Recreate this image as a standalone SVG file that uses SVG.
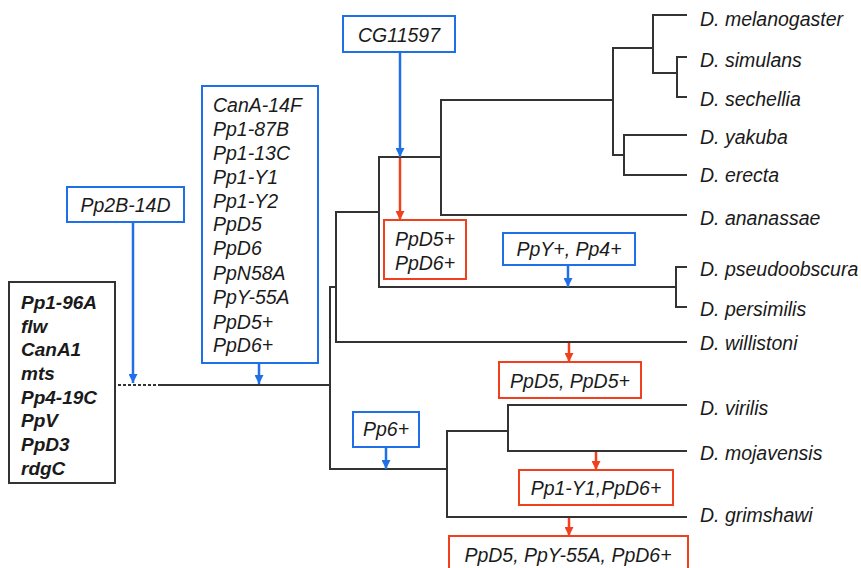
<svg xmlns="http://www.w3.org/2000/svg" width="861" height="568" viewBox="0 0 861 568">
<style>
text{font-family:"Liberation Sans",Arial,sans-serif;font-style:italic;font-size:19.5px;fill:#1a1a1a}
.b{font-weight:bold;font-size:19px}
.m{text-anchor:middle}
.tree path{fill:none;stroke:#333;stroke-width:2}
.bx{fill:#fff;stroke:#1f6fe8;stroke-width:2}
.rx{fill:#fff;stroke:#f0401e;stroke-width:2}
.kx{fill:#fff;stroke:#333;stroke-width:2}
.ba{stroke:#1f6fe8;stroke-width:2.5;fill:none}
.ra{stroke:#f0401e;stroke-width:2.5;fill:none}
</style>
<defs>
<marker id="bh" markerUnits="userSpaceOnUse" markerWidth="9" markerHeight="9" refX="9" refY="4.5" orient="auto" viewBox="0 0 9 9"><path d="M0,0 L9,4.5 L0,9 Z" fill="#1f6fe8"/></marker>
<marker id="rh" markerUnits="userSpaceOnUse" markerWidth="9" markerHeight="9" refX="9" refY="4.5" orient="auto" viewBox="0 0 9 9"><path d="M0,0 L9,4.5 L0,9 Z" fill="#f0401e"/></marker>
</defs>
<g id="connectors">
<g class="tree">
<path d="M118,385 H158" stroke-dasharray="3,2"/>
<path d="M158,385 H330"/>
<path d="M336,287 H330 V469 H447"/>
<path d="M379,212 H336 V342 H687"/>
<path d="M441,157 H379 V287 H676"/>
<path d="M613,100 H441 V215 H687"/>
<path d="M653,48 H613 V155 H624"/>
<path d="M687,15 H653 V73 H677"/>
<path d="M687,57 H677 V97 H687"/>
<path d="M687,135 H624 V175 H687"/>
<path d="M687,267 H676 V307 H687"/>
<path d="M508,431 H447 V517 H687"/>
<path d="M687,405 H508 V451 H687"/>
</g>
<path class="ba" d="M133,222 V383" marker-end="url(#bh)"/>
<path class="ba" d="M259,363 V384" marker-end="url(#bh)"/>
<path class="ba" d="M400,52 V157" marker-end="url(#bh)"/>
<path class="ra" d="M400,158 V220" marker-end="url(#rh)"/>
<path class="ba" d="M568,265 V287" marker-end="url(#bh)"/>
<path class="ra" d="M569,343 V362" marker-end="url(#rh)"/>
<path class="ba" d="M386,447 V469" marker-end="url(#bh)"/>
<path class="ra" d="M596,452 V470" marker-end="url(#rh)"/>
<path class="ra" d="M569,518 V536" marker-end="url(#rh)"/>
</g>
<g id="ancestral">
<rect class="kx" x="9" y="282" width="106" height="201"/>
<text class="b" x="21" y="309">Pp1-96A</text>
<text class="b" x="21" y="333">flw</text>
<text class="b" x="21" y="356">CanA1</text>
<text class="b" x="21" y="380">mts</text>
<text class="b" x="21" y="404">Pp4-19C</text>
<text class="b" x="21" y="427">PpV</text>
<text class="b" x="21" y="451">PpD3</text>
<text class="b" x="21" y="475">rdgC</text>
</g>
<g id="pp2b">
<rect class="bx" x="67" y="187" width="117" height="35"/>
<text class="m" x="125.5" y="212">Pp2B-14D</text>
</g>
<g id="bigbox">
<rect class="bx" x="202" y="86" width="116" height="277"/>
<text x="213" y="112">CanA-14F</text>
<text x="213" y="136">Pp1-87B</text>
<text x="213" y="160">Pp1-13C</text>
<text x="213" y="184">Pp1-Y1</text>
<text x="213" y="208">Pp1-Y2</text>
<text x="213" y="231">PpD5</text>
<text x="213" y="255">PpD6</text>
<text x="213" y="280">PpN58A</text>
<text x="213" y="304">PpY-55A</text>
<text x="213" y="329">PpD5+</text>
<text x="213" y="352">PpD6+</text>
</g>
<g id="cg11597">
<rect class="bx" x="343" y="16" width="112" height="36"/>
<text class="m" x="399" y="42">CG11597</text>
</g>
<g id="ppd5d6">
<rect class="rx" x="384" y="220" width="82" height="59"/>
<text class="m" x="425" y="246">PpD5+</text>
<text class="m" x="425" y="270">PpD6+</text>
</g>
<g id="ppy4">
<rect class="bx" x="503" y="233" width="132" height="32"/>
<text class="m" x="569" y="256">PpY+, Pp4+</text>
</g>
<g id="ppd5b">
<rect class="rx" x="499" y="362" width="142" height="36"/>
<text class="m" x="570" y="388">PpD5, PpD5+</text>
</g>
<g id="pp6">
<rect class="bx" x="353" y="412" width="66" height="35"/>
<text class="m" x="386" y="436">Pp6+</text>
</g>
<g id="pp1y1">
<rect class="rx" x="519" y="470" width="154" height="35"/>
<text class="m" x="596" y="495">Pp1-Y1,PpD6+</text>
</g>
<g id="ppd5y55">
<rect class="rx" x="449" y="536" width="239" height="40"/>
<text class="m" x="568" y="562">PpD5, PpY-55A, PpD6+</text>
</g>
<g id="species">
<text x="700" y="26">D. melanogaster</text>
<text x="700" y="67">D. simulans</text>
<text x="700" y="106">D. sechellia</text>
<text x="700" y="144">D. yakuba</text>
<text x="700" y="182">D. erecta</text>
<text x="700" y="225">D. ananassae</text>
<text x="700" y="276">D. pseudoobscura</text>
<text x="700" y="316">D. persimilis</text>
<text x="700" y="350">D. willistoni</text>
<text x="700" y="415">D. virilis</text>
<text x="700" y="460">D. mojavensis</text>
<text x="700" y="522">D. grimshawi</text>
</g>
</svg>
